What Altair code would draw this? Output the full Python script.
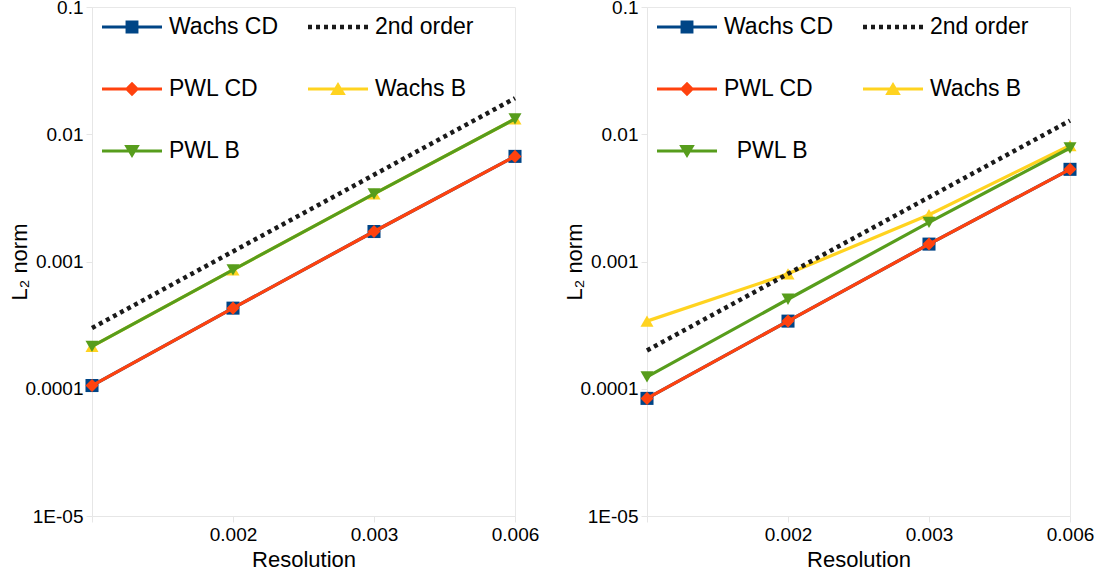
import altair as alt
import pandas as pd

# Resolution steps (evenly spaced categories) and their tick labels
resolution_steps = [0, 1, 2, 3]
resolution_labels = ["", "0.002", "0.003", "0.006"]

# Log-axis ticks for the L2 norm
norm_ticks = [1e-5, 1e-4, 1e-3, 1e-2, 1e-1]
norm_tick_labels = ["1E-05", "0.0001", "0.001", "0.01", "0.1"]

# Legend entries, filled column by column (3 rows x 2 columns), and colours
legend_order = ["Wachs CD", "PWL CD", "PWL B", "2nd order", "Wachs B"]
series_colors = ["#004586", "#ff420e", "#579d1c", "#1a1a1a", "#ffd320"]
color_of = dict(zip(legend_order, series_colors))

# Left panel errors
left_wachs_cd = [1.06e-4, 4.3e-4, 1.72e-3, 6.7e-3]
left_pwl_cd = [1.06e-4, 4.3e-4, 1.72e-3, 6.7e-3]
left_wachs_b = [2.15e-4, 8.6e-4, 3.4e-3, 1.32e-2]
left_pwl_b = [2.15e-4, 8.6e-4, 3.4e-3, 1.32e-2]
left_second_order = [3.0e-4, 1.2e-3, 4.8e-3, 1.92e-2]

# Right panel errors
right_wachs_cd = [8.4e-5, 3.4e-4, 1.37e-3, 5.3e-3]
right_pwl_cd = [8.4e-5, 3.4e-4, 1.37e-3, 5.3e-3]
right_wachs_b = [3.4e-4, 8.0e-4, 2.33e-3, 8.15e-3]
right_pwl_b = [1.24e-4, 5.05e-4, 2.03e-3, 7.8e-3]
right_second_order = [2.0e-4, 8.0e-4, 3.2e-3, 1.28e-2]

marker_shapes = {
    "Wachs CD": "square",
    "PWL CD": "diamond",
    "Wachs B": "triangle-up",
    "PWL B": "triangle-down",
}

# Legend glyphs: a line segment with the series marker in the middle
BAR = "M-2,-0.1H2V0.1H-2Z"
DOTS = " ".join(
    f"M{-2 + i * 0.5334:.4f},-0.15h0.2667v0.3h-0.2667Z" for i in range(8)
)
glyph_of = {
    "Wachs CD": BAR + " M-0.43,-0.43H0.43V0.43H-0.43Z",
    "PWL CD": BAR + " M0,-0.48L0.48,0L0,0.48L-0.48,0Z",
    "PWL B": BAR + " M0,0.46L-0.52,-0.4L0.52,-0.4Z",
    "2nd order": DOTS,
    "Wachs B": BAR + " M0,-0.46L0.52,0.4L-0.52,0.4Z",
}
legend_paths = [glyph_of[name] for name in legend_order]

x_label_expr = "[" + ",".join(f"'{t}'" for t in resolution_labels) + "][datum.value]"
y_label_expr = (
    "[" + ",".join(f"'{t}'" for t in norm_tick_labels) + "][round(log(datum.value)/LN10) + 5]"
)


def panel(values, legend_label_expr=None):
    rows = [
        {"series": name, "step": s, "norm": v}
        for name, series in values.items()
        for s, v in zip(resolution_steps, series)
    ]
    df = pd.DataFrame(rows)

    x = alt.X(
        "step:Q",
        title="Resolution",
        scale=alt.Scale(domain=[0, 3], nice=False, zero=False),
        axis=alt.Axis(values=resolution_steps, labelExpr=x_label_expr,
                      labelFlush=False, labelOverlap=False),
    )
    y = alt.Y(
        "norm:Q",
        title="L₂ norm",
        scale=alt.Scale(type="log", domain=[1e-5, 0.1], nice=False),
        axis=alt.Axis(values=norm_ticks, labelExpr=y_label_expr,
                      labelOverlap=False, titlePadding=-7),
    )
    base = alt.Chart(df).encode(x=x, y=y)

    layers = []
    for name in ["Wachs CD", "PWL CD", "Wachs B", "PWL B"]:
        sub = base.transform_filter(alt.datum.series == name)
        layers.append(sub.mark_line(strokeWidth=3.2, color=color_of[name]))
        layers.append(
            sub.mark_point(filled=True, opacity=1, size=170,
                           shape=marker_shapes[name], color=color_of[name])
        )
    layers.append(
        base.transform_filter(alt.datum.series == "2nd order").mark_line(
            strokeWidth=4.5, strokeDash=[4, 4], strokeCap="butt",
            color=color_of["2nd order"],
        )
    )

    legend_kwargs = dict(
        title=None,
        orient="none",
        legendX=25,
        legendY=5,
        columns=2,
        columnPadding=29,
        rowPadding=35,
        labelOffset=22,
        labelFontSize=23,
        labelColor="#000000",
        symbolSize=900,
        symbolStrokeWidth=0,
        symbolOpacity=1,
        padding=0,
        labelLimit=300,
    )
    if legend_label_expr:
        legend_kwargs["labelExpr"] = legend_label_expr
    key = alt.Legend(**legend_kwargs)

    legend_layer = (
        alt.Chart(pd.DataFrame({"series": legend_order}))
        .mark_point(filled=True, opacity=0)
        .encode(
            color=alt.Color(
                "series:N",
                scale=alt.Scale(domain=legend_order, range=series_colors),
                legend=key,
            ),
            shape=alt.Shape(
                "series:N",
                scale=alt.Scale(domain=legend_order, range=legend_paths),
                legend=key,
            ),
        )
    )
    return alt.layer(*layers, legend_layer).properties(width=423, height=509)


left = panel({
    "Wachs CD": left_wachs_cd,
    "PWL CD": left_pwl_cd,
    "Wachs B": left_wachs_b,
    "PWL B": left_pwl_b,
    "2nd order": left_second_order,
})
right = panel({
    "Wachs CD": right_wachs_cd,
    "PWL CD": right_pwl_cd,
    "Wachs B": right_wachs_b,
    "PWL B": right_pwl_b,
    "2nd order": right_second_order,
}, legend_label_expr="datum.label == 'PWL B' ? '\u200b\u00a0\u00a0PWL B' : datum.label")

chart = (
    alt.hconcat(left, right, spacing=23)
    .resolve_scale(color="independent", shape="independent")
    .resolve_legend(color="independent", shape="independent")
    .properties(padding={"left": 8, "top": -3, "right": 5, "bottom": 5})
    .configure(font="Liberation Sans")
    .configure_axis(
        labelFont="Liberation Sans",
        labelFontSize=19,
        labelColor="#000000",
        labelPadding=3,
        titleFont="Liberation Sans",
        titleFontSize=22,
        titleFontWeight="normal",
        titleColor="#000000",
        titlePadding=5,
        domainColor="#e6e6e6",
        tickColor="#e6e6e6",
        tickSize=6,
        grid=False,
    )
    .configure_legend(labelFont="Liberation Sans")
    .configure_view(stroke="#e8e8e8", strokeWidth=1)
)

chart.save("out.html", embed_options={"renderer": "svg", "actions": False})
